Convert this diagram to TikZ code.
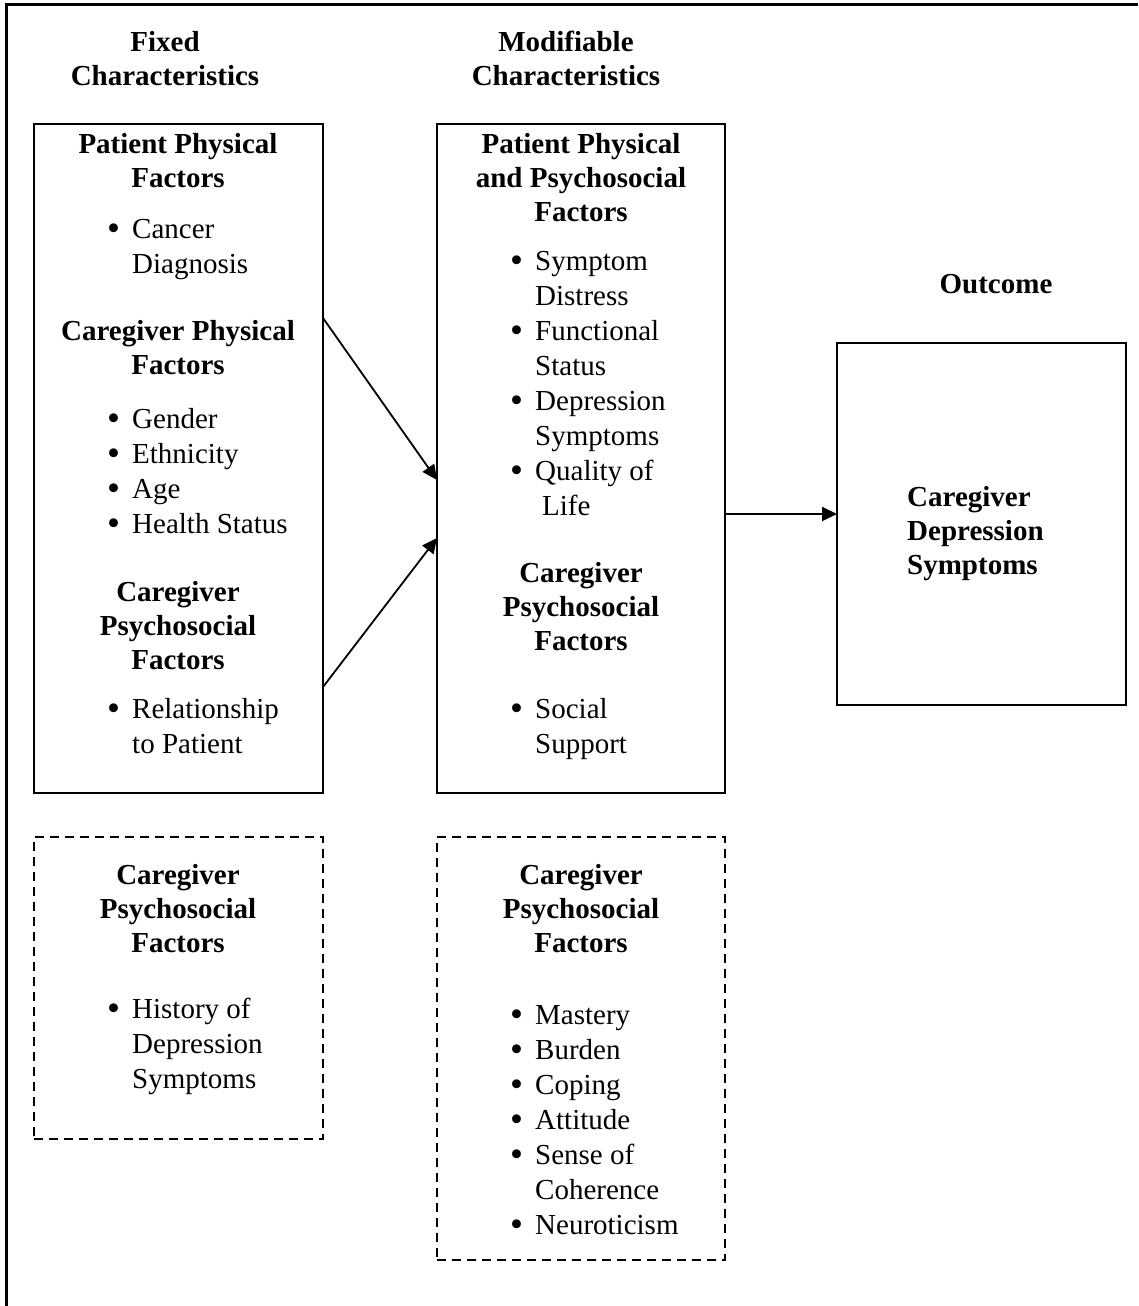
\documentclass[tikz,border=0pt]{standalone}
\usepackage{fontspec}
\setmainfont{Liberation Serif}
\usetikzlibrary{arrows.meta,calc}
\newcommand\bulitem{\makebox[24pt][l]{\hspace*{-1pt}\raisebox{-2pt}{\fontsize{37}{37}\selectfont\textbullet}}}
\newcommand\bulind{\hspace*{24pt}}
\begin{document}
\begin{tikzpicture}[x=1pt,y=-1pt,
  solidbox/.style={draw,line width=1.8pt,rectangle,inner sep=0pt,outer sep=0pt,anchor=north west},
  dashbox/.style={solidbox,dash pattern=on 9pt off 6pt},
  head/.style={font=\fontsize{29}{34}\selectfont\bfseries,align=center,anchor=base,inner sep=0pt},
  blist/.style={font=\fontsize{29}{35}\selectfont,align=left,anchor=base west,inner sep=0pt},
  arr/.style={line width=1.8pt,-{Triangle[length=15pt,width=14pt]}}]
\useasboundingbox (0,0) rectangle (1138,1306);
% outer frame (top and left edges)
\draw[line width=3pt] (1138,5) -- (6,5) -- (6,1306);

% boxes
\node[solidbox,minimum width=289pt,minimum height=669pt] (lbox) at (34,124) {};
\node[solidbox,minimum width=288pt,minimum height=669pt] (mbox) at (437,124) {};
\node[solidbox,minimum width=289pt,minimum height=362pt] (rbox) at (837,343) {};
\node[dashbox,minimum width=289pt,minimum height=302pt] (ldbox) at (34,837) {};
\node[dashbox,minimum width=288pt,minimum height=423pt] (mdbox) at (437,837) {};

% column headers (anchor = baseline of last line)
\node[head] (hfixed) at (165,85) {Fixed\\Characteristics};
\node[head] (hmod) at (566,85) {Modifiable\\Characteristics};
\node[head] (hout) at (996,293) {Outcome};

% left box
\node[head] (l1) at (178,187) {Patient Physical\\Factors};
\node[blist] (l1b) at (108,273) {\bulitem Cancer\\\bulind Diagnosis};
\node[head] (l2) at (178,374) {Caregiver Physical\\Factors};
\node[blist] (l2b) at (108,533) {\bulitem Gender\\\bulitem Ethnicity\\\bulitem Age\\\bulitem Health Status};
\node[head] (l3) at (178,669) {Caregiver\\Psychosocial\\Factors};
\node[blist] (l3b) at (108,753) {\bulitem Relationship\\\bulind to Patient};

% middle box
\node[head] (m1) at (581,221) {Patient Physical\\and Psychosocial\\Factors};
\node[blist] (m1b) at (511,515) {\bulitem Symptom\\\bulind Distress\\\bulitem Functional\\\bulind Status\\\bulitem Depression\\\bulind Symptoms\\\bulitem Quality of\\\bulind\hspace*{7pt}Life};
\node[head] (m2) at (581,650) {Caregiver\\Psychosocial\\Factors};
\node[blist] (m2b) at (511,753) {\bulitem Social\\\bulind Support};

% right box
\node[head,align=left,anchor=base west] (r1) at (907,574) {Caregiver\\Depression\\Symptoms};

% left dashed box
\node[head] (ld1) at (178,952) {Caregiver\\Psychosocial\\Factors};
\node[blist] (ld1b) at (108,1088) {\bulitem History of\\\bulind Depression\\\bulind Symptoms};

% middle dashed box
\node[head] (md1) at (581,952) {Caregiver\\Psychosocial\\Factors};
\node[blist] (md1b) at (511,1234) {\bulitem Mastery\\\bulitem Burden\\\bulitem Coping\\\bulitem Attitude\\\bulitem Sense of\\\bulind Coherence\\\bulitem Neuroticism};

% connectors
\draw[arr] ($(lbox.north east)+(0,194)$) -- ($(mbox.north west)+(0,356)$);
\draw[arr] ($(lbox.north east)+(0,563)$) -- ($(mbox.north west)+(0,414)$);
\coordinate (hstart) at ($(mbox.north east)+(0,390)$);
\draw[arr] (hstart) -- (hstart -| rbox.west);
\end{tikzpicture}
\end{document}
